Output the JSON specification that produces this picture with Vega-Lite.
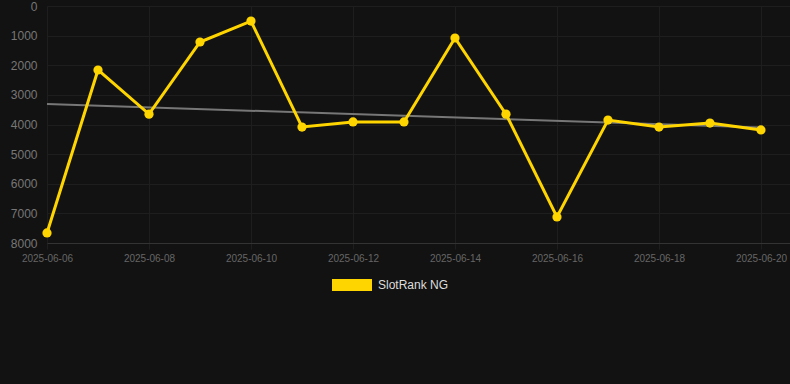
{
  "$schema": "https://vega.github.io/schema/vega-lite/v6.json",
  "width": 743,
  "height": 237,
  "autosize": {"type": "none"},
  "padding": {"left": 47, "top": 6, "right": 0, "bottom": 141},
  "background": "#121212",
  "config": {
    "view": {"stroke": null},
    "font": "Liberation Sans",
    "axis": {"gridColor": "#1e1e1e", "gridWidth": 1}
  },
  "datasets": {
    "main": [
      {"date": "2025-06-06", "rank": 7660, "series": "SlotRank NG"},
      {"date": "2025-06-07", "rank": 2160, "series": "SlotRank NG"},
      {"date": "2025-06-08", "rank": 3650, "series": "SlotRank NG"},
      {"date": "2025-06-09", "rank": 1215, "series": "SlotRank NG"},
      {"date": "2025-06-10", "rank": 510, "series": "SlotRank NG"},
      {"date": "2025-06-11", "rank": 4085, "series": "SlotRank NG"},
      {"date": "2025-06-12", "rank": 3915, "series": "SlotRank NG"},
      {"date": "2025-06-13", "rank": 3915, "series": "SlotRank NG"},
      {"date": "2025-06-14", "rank": 1080, "series": "SlotRank NG"},
      {"date": "2025-06-15", "rank": 3650, "series": "SlotRank NG"},
      {"date": "2025-06-16", "rank": 7120, "series": "SlotRank NG"},
      {"date": "2025-06-17", "rank": 3850, "series": "SlotRank NG"},
      {"date": "2025-06-18", "rank": 4085, "series": "SlotRank NG"},
      {"date": "2025-06-19", "rank": 3950, "series": "SlotRank NG"},
      {"date": "2025-06-20", "rank": 4185, "series": "SlotRank NG"}
    ],
    "trend": [
      {"date": "2025-06-06", "rank": 3310},
      {"date": "2025-06-20", "rank": 4100}
    ]
  },
  "encoding": {
    "x": {
      "field": "date",
      "type": "temporal",
      "scale": {
        "type": "utc",
        "domain": [
          {"year": 2025, "month": 6, "date": 6, "utc": true},
          {"year": 2025, "month": 6, "date": 20, "hours": 13, "minutes": 40, "utc": true}
        ]
      },
      "axis": {
        "title": null,
        "format": "%Y-%m-%d",
        "values": [
          {"year": 2025, "month": 6, "date": 6, "utc": true},
          {"year": 2025, "month": 6, "date": 8, "utc": true},
          {"year": 2025, "month": 6, "date": 10, "utc": true},
          {"year": 2025, "month": 6, "date": 12, "utc": true},
          {"year": 2025, "month": 6, "date": 14, "utc": true},
          {"year": 2025, "month": 6, "date": 16, "utc": true},
          {"year": 2025, "month": 6, "date": 18, "utc": true},
          {"year": 2025, "month": 6, "date": 20, "utc": true}
        ],
        "labelColor": "#666666",
        "labelFontSize": 10,
        "labelPadding": 4,
        "tickSize": 6,
        "tickColor": "#1e1e1e",
        "domainColor": "#333333",
        "labelFlush": false,
        "labelOverlap": false
      }
    },
    "y": {
      "field": "rank",
      "type": "quantitative",
      "scale": {"domain": [0, 8000], "reverse": true, "nice": false, "zero": false},
      "axis": {
        "title": null,
        "values": [0, 1000, 2000, 3000, 4000, 5000, 6000, 7000, 8000],
        "format": "d",
        "labelColor": "#777777",
        "labelFontSize": 12,
        "labelPadding": 10,
        "ticks": false,
        "domain": false
      }
    }
  },
  "layer": [
    {
      "data": {"name": "trend"},
      "mark": {"type": "line", "color": "#777777", "strokeWidth": 2}
    },
    {
      "data": {"name": "main"},
      "mark": {"type": "line", "strokeWidth": 3},
      "encoding": {
        "color": {
          "field": "series",
          "type": "nominal",
          "scale": {"range": ["#FFD500"]},
          "legend": {
            "title": null,
            "orient": "none",
            "legendX": 285,
            "legendY": 259,
            "symbolType": "M-1,-0.3H1V0.3H-1Z",
            "symbolSize": 1600,
            "symbolFillColor": "#FFD500",
            "symbolStrokeColor": "#FFD500",
            "symbolStrokeWidth": 0,
            "labelColor": "#dddddd",
            "labelFontSize": 12,
            "labelOffset": 6
          }
        }
      }
    },
    {
      "data": {"name": "main"},
      "mark": {"type": "point", "filled": true, "size": 85, "opacity": 1},
      "encoding": {
        "color": {"field": "series", "type": "nominal"}
      }
    }
  ]
}
